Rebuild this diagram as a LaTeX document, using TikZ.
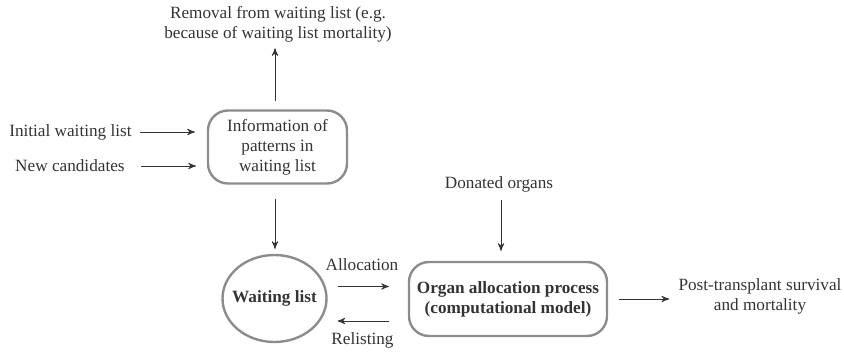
\documentclass[tikz,border=0pt]{standalone}
\usepackage{fontspec}
\setmainfont{Liberation Serif}
\usepackage{tikz}
\usetikzlibrary{arrows, shapes.geometric, positioning}
\definecolor{ink}{HTML}{333333}
\definecolor{rim}{HTML}{8C8C8C}
\tikzset{
  txt/.style = {align=center, inner sep=0pt, text=ink,
    font=\fontsize{8.6}{10}\selectfont},
  box/.style = {txt, draw=rim, line width=1.2pt, rounded corners=10pt},
  oval/.style = {txt, ellipse, draw=rim, line width=1.2pt},
  flow/.style = {->, >=stealth', draw=ink, line width=0.45pt}
}

\begin{document}
\begin{tikzpicture}[x=0.5pt, y=-0.5pt]
\useasboundingbox (0,0) rectangle (844,353);
% nodes
\node [txt] (removal) at (278,24) {Removal from waiting list (e.g.\\because of waiting list mortality)};
\node [box, minimum width=69.5pt, minimum height=36.5pt] (info) at (277.5,147) {Information of\\patterns in\\waiting list};
\node [txt, anchor=east] (initial) at (132,132) {Initial waiting list};
\node [txt, anchor=east] (new) at (125,166) {New candidates};
\node [oval, minimum width=52pt, minimum height=43.5pt] (wl) at (274.5,298.5) {\makebox[0pt]{\textbf{Waiting list}}};
\node [box, minimum width=99pt, minimum height=37pt] (organ) at (508,299) {\textbf{Organ allocation process}\\\textbf{(computational model)}};
\node [txt] (donated) at (499,184) {Donated organs};
\node [txt] (alloc) at (362,265) {Allocation};
\node [txt] (relist) at (362.5,340) {Relisting};
\node [txt] (post) at (760,296) {Post-transplant survival\\and mortality};
% connectors
\draw [flow, shorten <=4pt, shorten >=3pt] (info.north -| 275,0) -- (removal.south -| 275,0);
\draw [flow, shorten <=4pt, shorten >=6pt] (initial.east) -- (initial.east -| info.west);
\draw [flow, shorten <=8pt, shorten >=5.5pt] (new.east) -- (new.east -| info.west);
\draw [flow, shorten <=7pt, shorten >=2.5pt] (info.south -| 275,0) -- (wl.north -| 275,0);
\draw [flow, shorten <=5pt, shorten >=9.5pt] ([yshift=6pt]wl.east) -- ([yshift=6pt]wl.east -| organ.west);
\draw [flow, shorten <=9.5pt, shorten >=5pt] ([yshift=-11pt]organ.west) -- ([yshift=-11pt]organ.west -| wl.east);
\draw [flow, shorten <=4pt, shorten >=5pt] (donated.south -| 501,0) -- (organ.north -| 501,0);
\draw [flow, shorten <=5.5pt, shorten >=4.5pt] (organ.east) -- (organ.east -| post.west);
\end{tikzpicture}
\end{document}
